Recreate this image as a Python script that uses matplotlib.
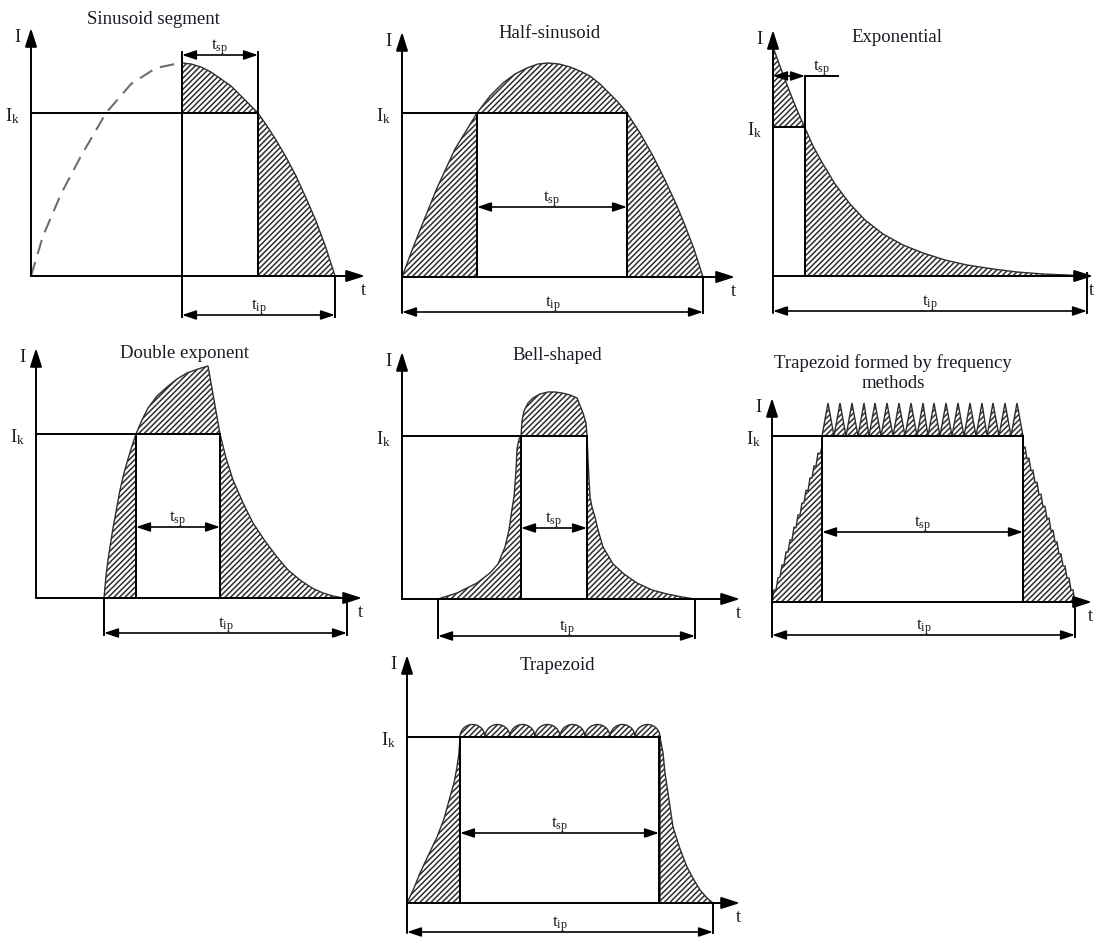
import matplotlib
matplotlib.use('Agg')
import matplotlib.pyplot as plt
from matplotlib.patches import Polygon, Wedge
from matplotlib.transforms import Affine2D
import numpy as np

plt.rcParams['font.family'] = 'Liberation Serif'
plt.rcParams['mathtext.fontset'] = 'custom'
plt.rcParams['mathtext.rm'] = 'Liberation Serif'
plt.rcParams['hatch.linewidth'] = 1.1

# all curves: t = px right of the I axis, I = px above the t axis

# sinusoid segment
sin_dash_t = [0, 12, 30, 50, 75, 100, 125, 149]
sin_dash_i = [0, 40, 82, 120, 163, 192, 208, 213]
sin_t = [151, 160, 170, 180, 190, 200, 210, 218, 227, 236, 245, 255, 265, 275, 285, 295, 304]
sin_i = [213, 212, 209, 204, 197, 190, 180, 172, 163, 150, 136, 119, 100, 78, 55, 28, 0]
sin_ik = 163

# half-sinusoid
hs_t = [0, 9, 18, 35, 53, 75, 88, 101, 113, 125, 136, 146, 157, 168, 178, 188, 198, 207,
        216, 225, 238, 251, 263, 275, 284, 292, 301]
hs_i = [0, 24, 47, 89, 128, 164, 181, 194, 203, 209, 213, 214, 213, 210, 206, 201, 193, 184,
        175, 164, 144, 121, 97, 71, 49, 28, 0]
hs_ik = 164

# exponential
ex_t = [0, 8, 16, 24, 32, 40, 50, 62, 77, 92, 110, 130, 150, 172, 194, 220, 244, 270, 294, 314]
ex_i = [229, 207, 186, 166, 148, 130, 112, 92, 72, 56, 42, 31, 23, 16, 11, 7, 4, 2, 1, 0]
ex_ik = 149

# double exponent
de_t = [68, 70, 72, 74, 77, 80, 84, 88, 92, 96, 100, 106, 112, 121, 131, 141, 151, 162, 172,
        178, 184, 190, 197, 207, 217, 229, 241, 252, 264, 276, 287, 297, 307]
de_i = [0, 22, 38, 51, 70, 86, 108, 125, 139, 152, 164, 178, 190, 202, 211, 219, 225, 229, 232,
        198, 164, 140, 118, 95, 75, 57, 41, 28, 18, 10, 5, 2, 0]
de_ik = 164

# bell-shaped
bl_t = [36, 55, 75, 88, 96, 103, 107, 110, 112, 114, 115, 117, 119, 120, 122, 126, 131, 138, 146, 153,
        160, 168, 175, 181, 184, 185, 186, 187, 188, 190, 193, 196, 201, 211, 222, 235, 250, 265, 280, 293]
bl_i = [0, 6, 16, 26, 35, 52, 69, 90, 102, 128, 150, 160, 163, 178, 188, 196, 201, 205, 207, 207,
        206, 204, 201, 186, 176, 163, 140, 120, 102, 92, 82, 69, 52, 35, 25, 16, 9, 5, 2, 0]
bl_ik = 163

# trapezoid formed by frequency methods
fq_top_t = [50, 56, 62, 68, 74, 80, 86, 92, 97, 103, 109, 115, 121, 127, 133, 139, 145, 151, 156,
            162, 168, 174, 180, 186, 192, 198, 204, 210, 215, 221, 227, 233, 239, 245, 251]
fq_top_i = [166, 199, 166, 199, 166, 199, 166, 199, 166, 199, 166, 199, 166, 199, 166, 199, 166, 199,
            166, 199, 166, 199, 166, 199, 166, 199, 166, 199, 166, 199, 166, 199, 166, 199, 166]
fq_left_t = [0, 2, 4, 6, 8, 10, 12, 14, 16, 18, 20, 22, 24, 26, 28, 30, 32, 34, 36, 38, 40, 42, 44, 46, 48, 50]
fq_left_i = [0, 12, 12, 24, 25, 37, 37, 50, 50, 62, 62, 75, 74, 87, 87, 99, 99, 112, 111, 124, 124, 136, 136,
             149, 148, 155]
fq_right_t = [251, 253, 255, 257, 259, 261, 263, 265, 267, 269, 271, 273, 275, 277, 279, 281, 283, 285,
              287, 289, 291, 293, 295, 297, 299, 301, 303]
fq_right_i = [155, 155, 143, 144, 131, 132, 119, 120, 107, 108, 95, 96, 83, 84, 71, 72, 60, 60, 48, 48,
              36, 36, 24, 24, 12, 12, 0]
fq_ik = 166

# trapezoid
tz_left_t = [0, 7, 13, 21, 30, 37, 43, 47, 50, 52, 53]
tz_left_i = [0, 15, 30, 47, 66, 84, 106, 120, 136, 150, 166]
tz_right_t = [253, 256, 258, 262, 266, 273, 280, 287, 293, 300, 306]
tz_right_i = [166, 150, 130, 103, 76, 54, 36, 23, 13, 5, 0]
tz_bumps = [65.5, 90.5, 115.5, 140.5, 165.5, 190.5, 215.5, 240.5]
tz_ik = 166

LW = 1.4
HATCH_C = '#2e2e2e'
TXT_C = '#1a1a24'
axis_arrow = dict(arrowstyle='-|>,head_length=0.75,head_width=0.24', color='k', lw=LW,
                  mutation_scale=15, shrinkA=0, shrinkB=0)
dim_arrow = dict(arrowstyle='<|-|>,head_length=0.6,head_width=0.2', color='k', lw=1.2,
                 mutation_scale=14, shrinkA=0, shrinkB=0)

fig = plt.figure(figsize=(11.01, 9.46), dpi=100)
ax = fig.add_axes([0, 0, 1, 1])
ax.set_xlim(0, 1101)
ax.set_ylim(946, 0)
ax.axis('off')


def local(x0, y0):
    return Affine2D().scale(1, -1).translate(x0, y0) + ax.transData


def frame(tr, xlen, ylen, ylow, ik, ik_end):
    ax.annotate('', xy=(0, ylen), xytext=(0, ylow), xycoords=tr, textcoords=tr, arrowprops=axis_arrow)
    ax.annotate('', xy=(xlen, 0), xytext=(0, 0), xycoords=tr, textcoords=tr, arrowprops=axis_arrow)
    ax.plot([0, ik_end], [ik, ik], transform=tr, color='k', lw=LW)
    ax.text(-14, ylen - 9, 'I', transform=tr, ha='center', va='center', fontsize=13.5, color=TXT_C)
    ax.text(xlen - 2, -14, 't', transform=tr, ha='center', va='center', fontsize=13.5, color=TXT_C)
    ax.text(-18, ik - 3, r'$\mathrm{I_k}$', transform=tr, ha='center', va='center', fontsize=13.5,
            color=TXT_C)


def vline(tr, t, i0, i1):
    ax.plot([t, t], [i0, i1], transform=tr, color='k', lw=LW)


def dim(tr, t1, t2, i, label, lx=None):
    ax.annotate('', xy=(t2, i), xytext=(t1, i), xycoords=tr, textcoords=tr, arrowprops=dim_arrow)
    if lx is None:
        lx = (t1 + t2) / 2
    ax.text(lx, i + 8, r'$\mathrm{t_{%s}}$' % label, transform=tr, ha='center', va='center',
            fontsize=12.5, color=TXT_C)


def hatch(tr, pts):
    ax.add_patch(Polygon(pts, closed=True, transform=tr, facecolor='none', edgecolor=HATCH_C,
                         hatch='//////', lw=1.0))


def cut(t, i, a, b):
    t = np.asarray(t, dtype=float)
    i = np.asarray(i, dtype=float)
    m = (t >= a) & (t <= b)
    return list(zip(t[m], i[m]))


def title(x, y, s):
    ax.text(x, y, s, ha='center', va='center', fontsize=13.5, color=TXT_C)


# --- Sinusoid segment
tr = local(31, 276)
hatch(tr, cut(sin_t, sin_i, 151, 227) + [(227, sin_ik), (151, sin_ik)])
hatch(tr, cut(sin_t, sin_i, 227, 304) + [(227, 0)])
ax.plot(sin_dash_t, sin_dash_i, transform=tr, color='#6e6e6e', lw=1.5, ls=(0, (7, 4)))
frame(tr, 334, 248, 0, sin_ik, 227)
vline(tr, 151, 224, -41)
vline(tr, 227, 224, 0)
vline(tr, 304, 0, -41)
dim(tr, 151, 227, 221, 'sp')
dim(tr, 151, 304, -39, 'ip')
title(153, 20, 'Sinusoid segment')

# --- Half-sinusoid
tr = local(402, 277)
hatch(tr, cut(hs_t, hs_i, 0, 75) + [(75, 0)])
hatch(tr, cut(hs_t, hs_i, 75, 225) + [(225, hs_ik), (75, hs_ik)])
hatch(tr, cut(hs_t, hs_i, 225, 301) + [(225, 0)])
frame(tr, 333, 245, -36, hs_ik, 225)
vline(tr, 75, hs_ik, 0)
vline(tr, 225, hs_ik, 0)
vline(tr, 301, 0, -36)
dim(tr, 75, 225, 70, 'sp')
dim(tr, 0, 301, -35, 'ip')
title(550, 33, 'Half-sinusoid')

# --- Exponential
tr = local(773, 276)
hatch(tr, cut(ex_t, ex_i, 0, 32) + [(32, ex_ik), (0, ex_ik)])
hatch(tr, cut(ex_t, ex_i, 32, 314) + [(32, 0)])
frame(tr, 320, 246, -37, ex_ik, 32)
vline(tr, 32, 200, 0)
vline(tr, 314, 3, -37)
ax.plot([32, 65], [200, 200], transform=tr, color='k', lw=LW)
dim(tr, 0, 32, 200, 'sp', lx=49)
dim(tr, 0, 314, -35, 'ip')
title(897, 37, 'Exponential')

# --- Double exponent
tr = local(36, 598)
hatch(tr, cut(de_t, de_i, 68, 100) + [(100, 0)])
hatch(tr, cut(de_t, de_i, 100, 184) + [(184, de_ik), (100, de_ik)])
hatch(tr, cut(de_t, de_i, 184, 307) + [(184, 0)])
frame(tr, 326, 250, 0, de_ik, 184)
vline(tr, 100, de_ik, 0)
vline(tr, 184, de_ik, 0)
vline(tr, 68, 0, -37)
vline(tr, 311, 0, -37)
dim(tr, 100, 184, 71, 'sp')
dim(tr, 68, 311, -35, 'ip')
title(185, 353, 'Double exponent')

# --- Bell-shaped
tr = local(402, 599)
hatch(tr, cut(bl_t, bl_i, 36, 119) + [(119, 0)])
hatch(tr, cut(bl_t, bl_i, 119, 185) + [(185, bl_ik), (119, bl_ik)])
hatch(tr, cut(bl_t, bl_i, 185, 293) + [(185, 0)])
frame(tr, 338, 247, 0, bl_ik, 185)
vline(tr, 119, bl_ik, 0)
vline(tr, 185, bl_ik, 0)
vline(tr, 36, 0, -39)
vline(tr, 293, 0, -39)
dim(tr, 119, 185, 71, 'sp')
dim(tr, 36, 293, -37, 'ip')
title(557, 355, 'Bell-shaped')

# --- Trapezoid formed by frequency methods
tr = local(772, 602)
hatch(tr, list(zip(fq_left_t, fq_left_i)) + [(50, 0)])
hatch(tr, list(zip(fq_top_t, fq_top_i)))
hatch(tr, list(zip(fq_right_t, fq_right_i)) + [(251, 0)])
frame(tr, 320, 204, -35, fq_ik, 251)
vline(tr, 50, fq_ik, 0)
vline(tr, 251, fq_ik, 0)
vline(tr, 303, 0, -35)
dim(tr, 50, 251, 70, 'sp')
dim(tr, 0, 303, -33, 'ip')
title(893, 363, 'Trapezoid formed by frequency')
title(893, 383, 'methods')

# --- Trapezoid
tr = local(407, 903)
hatch(tr, list(zip(tz_left_t, tz_left_i)) + [(53, 0)])
hatch(tr, list(zip(tz_right_t, tz_right_i)) + [(253, 0)])
for c in tz_bumps:
    ax.add_patch(Wedge((c, tz_ik), 12.5, 0, 180, transform=tr, facecolor='none',
                       edgecolor=HATCH_C, hatch='//////', lw=1.0))
frame(tr, 333, 248, -30, tz_ik, 253)
vline(tr, 53, tz_ik, 0)
vline(tr, 252, tz_ik, 0)
vline(tr, 306, 0, -30)
dim(tr, 53, 252, 70, 'sp')
dim(tr, 0, 306, -29, 'ip')
title(557, 665, 'Trapezoid')

fig.savefig('out.png', dpi=100)
